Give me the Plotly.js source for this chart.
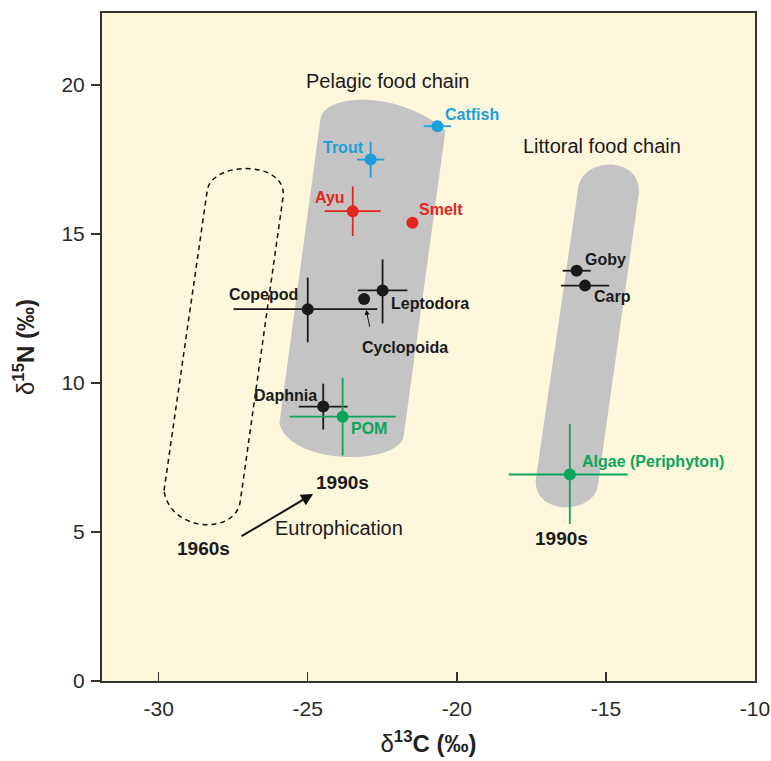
<!DOCTYPE html>
<html><head><meta charset="utf-8">
<script src="https://cdn.plot.ly/plotly-3.0.1.min.js"></script>
<style>body{margin:0;background:#fff}#c{width:771px;height:761px}</style>
</head><body><div id="c"></div>
<script>
// ---- data (δ13C, δ15N, error half-widths) ----
const species   = ["Catfish","Trout","Ayu","Smelt","Copepod","Leptodora","Cyclopoida","Daphnia","POM","Goby","Carp","Algae (Periphyton)"];
const groups    = ["blue","blue","red","red","black","black","black","black","green","black","black","green"];
const d13C      = [-20.65,-22.89,-23.49,-21.49,-25.0,-22.49,-23.11,-24.48,-23.83,-15.98,-15.70,-16.21];
const d15N      = [18.62,17.50,15.77,15.38,12.48,13.11,12.82,9.21,8.87,13.77,13.27,6.93];
const errXplus  = [0.46,0.46,0.94,null,2.33,0.83,null,0.82,1.78,0.47,0.81,1.94];
const errXminus = [0.46,0.46,0.94,null,2.49,0.83,null,0.82,1.78,0.47,0.81,2.05];
const errYplus  = [null,0.60,0.83,null,1.06,1.04,null,0.77,1.30,null,null,1.70];
const errYminus = [null,0.60,0.83,null,1.11,1.11,null,0.77,1.30,null,null,1.66];
const xTicks = [-30,-25,-20,-15,-10];
const yTicks = [0,5,10,15,20];

// label positions [x, y, anchor]
const labelPos = [[-20.48,19.02,"left"],[-23.03,17.91,"right"],[-23.70,16.24,"right"],[-21.33,15.82,"left"],
  [-25.25,12.97,"right"],[-22.28,12.68,"left"],[-21.75,11.18,"center"],[-24.63,9.58,"right"],
  [-23.62,8.46,"left"],[-15.78,14.14,"left"],[-15.48,12.92,"left"],[-15.875,7.37,"left"]];

// region outlines (data coords), cubic-bezier paths
const pelagicPath = [["M",-25.95,8.64],["L",-24.58,18.82],["C",-24.51,19.76,-21.89,19.83,-20.38,18.48],["L",-21.79,8.17],["C",-22.06,7.23,-25.58,7.23,-25.95,8.64]];
const littoralPath = [["M",-17.35,6.79],["L",-15.94,16.47],["C",-15.84,17.64,-13.83,17.64,-13.89,16.40],["L",-15.27,6.56],["C",-15.44,5.55,-17.46,5.55,-17.35,6.79]];
const p1960Path = [["M",-29.82,6.39],["L",-28.37,16.47],["C",-28.20,17.47,-25.75,17.47,-25.82,16.30],["L",-27.26,6.05],["C",-27.40,4.88,-29.61,4.98,-29.82,6.39]];

const colors = {blue:"#1aa0d8", red:"#e2261c", green:"#0aa55a", black:"#1a1a1a"};
const FONT = "Liberation Sans, Arial, sans-serif";

function pathStr(p){ return p.map(s=>s[0]+" "+s.slice(1).reduce((a,v,i)=>a+(i%2===0?(i?" ":""):",")+v,"")).join(" ")+" Z"; }

const traces = [];
["blue","red","black","green"].forEach(g=>{
  const idx = species.map((s,i)=>i).filter(i=>groups[i]===g);
  const pick = a => idx.map(i=>a[i]===null?0:a[i]);
  traces.push({
    type:"scatter", mode:"markers",
    x: idx.map(i=>d13C[i]), y: idx.map(i=>d15N[i]),
    text: idx.map(i=>species[i]), hoverinfo:"text",
    marker:{color:colors[g], size:12},
    error_x:{type:"data", symmetric:false, array:pick(errXplus), arrayminus:pick(errXminus), color:colors[g], thickness:1.8, width:0},
    error_y:{type:"data", symmetric:false, array:pick(errYplus), arrayminus:pick(errYminus), color:colors[g], thickness:1.8, width:0},
    showlegend:false
  });
});

const annotations = species.map((s,i)=>({
  x:labelPos[i][0], y:labelPos[i][1], xref:"x", yref:"y", text:"<b>"+s+"</b>", showarrow:false,
  xanchor:labelPos[i][2], yanchor:"middle",
  font:{family:FONT, size:16, color:colors[groups[i]]}
}));
const extra = [
  {x:-22.31,y:20.13,text:"Pelagic food chain",size:20,bold:false},
  {x:-15.14,y:17.94,text:"Littoral food chain",size:20,bold:false},
  {x:-23.96,y:5.12,text:"Eutrophication",size:20,bold:false},
  {x:-23.85,y:6.67,text:"1990s",size:19,bold:true},
  {x:-16.50,y:4.77,text:"1990s",size:19,bold:true},
  {x:-28.51,y:4.46,text:"1960s",size:19,bold:true}
];
extra.forEach(e=>annotations.push({x:e.x,y:e.y,xref:"x",yref:"y",text:e.bold?"<b>"+e.text+"</b>":e.text,showarrow:false,
  xanchor:"center",yanchor:"middle",font:{family:FONT,size:e.size,color:"#1a1a1a"}}));
// arrows
annotations.push({x:-24.82,y:6.28,ax:-27.32,ay:4.80,xref:"x",yref:"y",axref:"x",ayref:"y",text:" ",showarrow:true,
  arrowhead:2,arrowsize:1.2,arrowwidth:2,arrowcolor:"#111"});
annotations.push({x:-23.04,y:12.46,ax:-22.86,ay:11.60,xref:"x",yref:"y",axref:"x",ayref:"y",text:" ",showarrow:true,
  arrowhead:2,arrowsize:1,arrowwidth:1,arrowcolor:"#111"});

const shapes = [
  {type:"path", xref:"x", yref:"y", path:pathStr(pelagicPath), fillcolor:"#c4c4c4", line:{width:0}, layer:"below"},
  {type:"path", xref:"x", yref:"y", path:pathStr(littoralPath), fillcolor:"#c4c4c4", line:{width:0}, layer:"below"},
  {type:"path", xref:"x", yref:"y", path:pathStr(p1960Path), fillcolor:"rgba(0,0,0,0)", line:{width:1.5, color:"#111", dash:"5px,4px"}, layer:"below"}
];

const layout = {
  width:771, height:761,
  margin:{l:102, r:16, t:13, b:80},
  paper_bgcolor:"#ffffff", plot_bgcolor:"#fef7dc",
  font:{family:FONT, color:"#222"},
  xaxis:{range:[-31.9,-10], tickvals:xTicks, ticktext:xTicks.map(String), ticks:"inside", ticklen:9, tickwidth:1.5, tickcolor:"#333",
    showline:true, mirror:true, linecolor:"#333", linewidth:2, showgrid:false, zeroline:false,
    ticklabelstandoff:8,
    tickfont:{family:FONT,size:21,color:"#2a2a2a"},
    title:{text:"δ<b><sup>13</sup>C (‰)</b>", font:{family:FONT,size:24,color:"#222"}, standoff:16}},
  yaxis:{range:[0,22.42], tickvals:yTicks, ticktext:yTicks.map(String), ticks:"outside", ticklen:9, tickwidth:1.5, tickcolor:"#333",
    showline:true, mirror:true, linecolor:"#333", linewidth:2, showgrid:false, zeroline:false,
    ticklabelstandoff:2,
    tickfont:{family:FONT,size:21,color:"#2a2a2a"},
    title:{text:"δ<b><sup>15</sup>N (‰)</b>", font:{family:FONT,size:24,color:"#222"}, standoff:20}},
  shapes:shapes, annotations:annotations, showlegend:false
};
Plotly.newPlot("c", traces, layout, {displayModeBar:false, staticPlot:true});
</script></body></html>
